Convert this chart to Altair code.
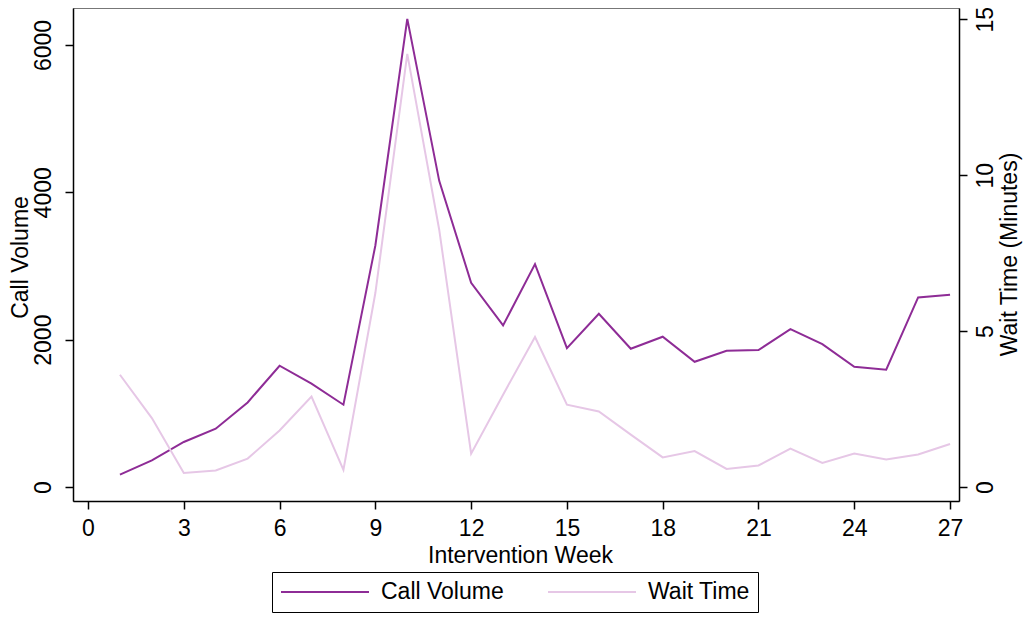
import altair as alt
import pandas as pd

# weekly values
weeks = list(range(1, 28))
call_volume = [167, 361, 611, 791, 1148, 1646, 1402, 1117, 3278, 6354,
               4156, 2772, 2193, 3026, 1886, 2352, 1877, 2040, 1700, 1849,
               1859, 2144, 1940, 1632, 1592, 2573, 2609]
wait_time = [3.60, 2.21, 0.45, 0.53, 0.91, 1.81, 2.90, 0.55, 6.22, 13.89,
             8.25, 1.07, 2.96, 4.81, 2.64, 2.42, 1.68, 0.95, 1.15, 0.58,
             0.69, 1.23, 0.77, 1.07, 0.88, 1.04, 1.38]

series_names = ["Call Volume", "Wait Time"]
series_colors = ["#8E2C96", "#E6C7E6"]
week_ticks = list(range(0, 28, 3))
call_ticks = [0, 2000, 4000, 6000]
wait_ticks = [0, 5, 10, 15]

df = pd.DataFrame({"week": weeks, "calls": call_volume, "wait": wait_time})

FONT = "Liberation Sans"
FS = 23

# long flat stroke as legend key (symbol box stays text-high)
legend_key = "M-1,0H7"

color_enc = alt.Color(
    "series:N",
    scale=alt.Scale(domain=series_names, range=series_colors),
    legend=alt.Legend(
        title=None, orient="none", legendX=199, legendY=564,
        direction="horizontal", symbolType=legend_key, symbolSize=484,
        symbolStrokeWidth=2, labelOffset=77, columnPadding=40,
        padding=8, strokeColor="black", fillColor="white",
    ),
)

base = alt.Chart(df).encode(
    x=alt.X(
        "week:Q",
        scale=alt.Scale(domain=[-0.47, 27.28], nice=False, zero=False),
        axis=alt.Axis(
            values=week_ticks, format="d", grid=False, tickSize=8,
            labelPadding=8, labelBaseline="top",
            title="Intervention Week", titleBaseline="alphabetic",
            titleX=447, titleY=61, titleAlign="center",
        ),
    ),
    color=color_enc,
)

calls = base.transform_calculate(series="'Call Volume'").mark_line(strokeWidth=2).encode(
    y=alt.Y(
        "calls:Q",
        scale=alt.Scale(domain=[-190, 6502], nice=False, zero=False),
        axis=alt.Axis(
            orient="left", values=call_ticks, format="d", grid=False,
            tickSize=8, labelAngle=270, labelAlign="center",
            labelBaseline="bottom", labelPadding=10,
            title="Call Volume", titleAngle=270, titleBaseline="alphabetic",
            titleAlign="center", titleX=-46, titleY=249,
        ),
    ),
)

wait = base.transform_calculate(series="'Wait Time'").mark_line(strokeWidth=2).encode(
    y=alt.Y(
        "wait:Q",
        scale=alt.Scale(domain=[-0.449, 15.36], nice=False, zero=False),
        axis=alt.Axis(
            orient="right", values=wait_ticks, format="d", grid=False,
            tickSize=8, labelAngle=270, labelAlign="center",
            labelBaseline="top", labelPadding=7,
            title="Wait Time (Minutes)", titleAngle=270,
            titleBaseline="alphabetic", titleAlign="center",
            titleX=57, titleY=246,
        ),
    ),
)

chart = alt.layer(calls, wait).resolve_scale(
    y="independent"
).properties(
    width=886,
    height=493,
    autosize=alt.AutoSizeParams(type="none"),
    padding={"left": 65, "top": 0, "right": 64, "bottom": 114},
).configure(
    font=FONT,
).configure_axis(
    labelFont=FONT, titleFont=FONT, labelFontSize=FS, titleFontSize=FS,
    labelColor="black", titleColor="black", titleFontWeight="normal",
    domainColor="black", domainWidth=1.5, tickColor="black", tickWidth=1.5,
).configure_legend(
    labelFont=FONT, labelFontSize=FS, labelColor="black",
).configure_view(
    stroke="#777777", strokeWidth=1,
)

chart.save("out.html", embed_options={"renderer": "svg", "actions": False})
